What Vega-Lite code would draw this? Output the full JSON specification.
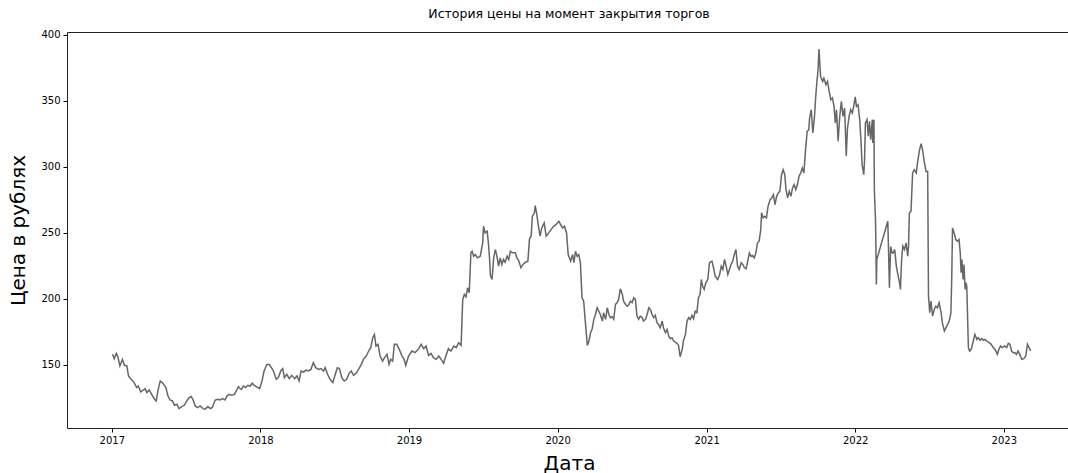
{
  "$schema": "https://vega.github.io/schema/vega-lite/v6.json",
  "autosize": "none",
  "width": 1004,
  "height": 396,
  "padding": {"left": 67, "top": 32, "right": 0, "bottom": 45},
  "background": "white",
  "config": {"view": {"stroke": "#222222", "strokeWidth": 1}, "font": "DejaVu Sans"},
  "title": {"text": "История цены на момент закрытия торгов", "fontSize": 12.5, "fontWeight": "normal", "font": "DejaVu Sans", "color": "#000000", "anchor": "middle", "offset": 9},
  "data": {"values": [
    {"date":"2017-01-03","price":157.8},{"date":"2017-01-07","price":154.5},{"date":"2017-01-12","price":158.5},{"date":"2017-01-16","price":156},{"date":"2017-01-21","price":149},{"date":"2017-01-27","price":154},{"date":"2017-02-01","price":149.5},{"date":"2017-02-07","price":149},{"date":"2017-02-11","price":141.4},{"date":"2017-02-19","price":138.4},{"date":"2017-02-25","price":136.4},{"date":"2017-03-03","price":132.6},{"date":"2017-03-07","price":133.8},{"date":"2017-03-13","price":129.3},{"date":"2017-03-20","price":130.8},{"date":"2017-03-24","price":131.8},{"date":"2017-03-28","price":128.8},{"date":"2017-04-03","price":130.8},{"date":"2017-04-09","price":127.5},{"date":"2017-04-16","price":123.8},{"date":"2017-04-20","price":122.5},{"date":"2017-04-25","price":131.3},{"date":"2017-04-30","price":137.6},{"date":"2017-05-05","price":136.4},{"date":"2017-05-10","price":134.3},{"date":"2017-05-14","price":132.6},{"date":"2017-05-19","price":126.2},{"date":"2017-05-24","price":123.2},{"date":"2017-05-30","price":122.5},{"date":"2017-06-04","price":119.2},{"date":"2017-06-10","price":120},{"date":"2017-06-15","price":116.7},{"date":"2017-06-22","price":118.2},{"date":"2017-06-28","price":119.2},{"date":"2017-07-04","price":122.5},{"date":"2017-07-10","price":125},{"date":"2017-07-15","price":125.8},{"date":"2017-07-19","price":123.8},{"date":"2017-07-25","price":118.7},{"date":"2017-07-31","price":117.5},{"date":"2017-08-06","price":118.7},{"date":"2017-08-13","price":116.7},{"date":"2017-08-18","price":116.2},{"date":"2017-08-25","price":118.2},{"date":"2017-08-31","price":116.7},{"date":"2017-09-05","price":117.5},{"date":"2017-09-12","price":123.2},{"date":"2017-09-18","price":123.8},{"date":"2017-09-24","price":123.2},{"date":"2017-09-30","price":124.3},{"date":"2017-10-06","price":123.2},{"date":"2017-10-11","price":126.2},{"date":"2017-10-16","price":127.5},{"date":"2017-10-23","price":126.8},{"date":"2017-10-29","price":127.5},{"date":"2017-11-04","price":130.8},{"date":"2017-11-08","price":133.4},{"date":"2017-11-12","price":131.8},{"date":"2017-11-16","price":131.3},{"date":"2017-11-20","price":133.8},{"date":"2017-11-26","price":132.6},{"date":"2017-12-01","price":134.3},{"date":"2017-12-07","price":133.8},{"date":"2017-12-12","price":135.9},{"date":"2017-12-17","price":134.3},{"date":"2017-12-22","price":133.4},{"date":"2017-12-30","price":131.8},
    {"date":"2018-01-05","price":137.6},{"date":"2018-01-10","price":145.2},{"date":"2018-01-17","price":150.2},{"date":"2018-01-23","price":150.2},{"date":"2018-01-28","price":147.7},{"date":"2018-02-02","price":145.2},{"date":"2018-02-09","price":138.9},{"date":"2018-02-14","price":140.2},{"date":"2018-02-20","price":145.2},{"date":"2018-02-25","price":147},{"date":"2018-03-01","price":140.2},{"date":"2018-03-07","price":142.7},{"date":"2018-03-13","price":139.4},{"date":"2018-03-19","price":141.9},{"date":"2018-03-26","price":139.4},{"date":"2018-04-01","price":141.4},{"date":"2018-04-06","price":137.6},{"date":"2018-04-11","price":145.2},{"date":"2018-04-17","price":144.4},{"date":"2018-04-23","price":145.9},{"date":"2018-04-29","price":145.2},{"date":"2018-05-05","price":146.4},{"date":"2018-05-11","price":151.5},{"date":"2018-05-17","price":147.7},{"date":"2018-05-24","price":146.4},{"date":"2018-05-30","price":147},{"date":"2018-06-05","price":145.2},{"date":"2018-06-09","price":147.7},{"date":"2018-06-15","price":142.7},{"date":"2018-06-21","price":138.9},{"date":"2018-06-28","price":136.4},{"date":"2018-07-04","price":142.7},{"date":"2018-07-09","price":147.7},{"date":"2018-07-14","price":147},{"date":"2018-07-20","price":140.2},{"date":"2018-07-26","price":137.6},{"date":"2018-08-01","price":138.9},{"date":"2018-08-07","price":143.4},{"date":"2018-08-12","price":145.2},{"date":"2018-08-18","price":141.9},{"date":"2018-08-24","price":143.4},{"date":"2018-08-30","price":146.4},{"date":"2018-09-06","price":150.2},{"date":"2018-09-11","price":154},{"date":"2018-09-18","price":156.5},{"date":"2018-09-24","price":160.3},{"date":"2018-09-29","price":162.9},{"date":"2018-10-04","price":170.4},{"date":"2018-10-08","price":172.9},{"date":"2018-10-12","price":164.1},{"date":"2018-10-17","price":165.4},{"date":"2018-10-22","price":156.5},{"date":"2018-10-28","price":152.7},{"date":"2018-11-02","price":155.3},{"date":"2018-11-08","price":157.8},{"date":"2018-11-13","price":150.2},{"date":"2018-11-17","price":154},{"date":"2018-11-22","price":152.7},{"date":"2018-11-26","price":165.4},{"date":"2018-12-02","price":165.4},{"date":"2018-12-08","price":161.6},{"date":"2018-12-15","price":156.5},{"date":"2018-12-20","price":154},{"date":"2018-12-24","price":149.5},{"date":"2018-12-31","price":156.5},
    {"date":"2019-01-08","price":160.3},{"date":"2019-01-16","price":159.1},{"date":"2019-01-25","price":162.1},{"date":"2019-01-31","price":165.4},{"date":"2019-02-06","price":162.1},{"date":"2019-02-12","price":164.1},{"date":"2019-02-18","price":157},{"date":"2019-02-24","price":158.5},{"date":"2019-03-02","price":155.3},{"date":"2019-03-09","price":154},{"date":"2019-03-15","price":156.5},{"date":"2019-03-20","price":154.5},{"date":"2019-03-27","price":151},{"date":"2019-04-03","price":157.8},{"date":"2019-04-08","price":162.1},{"date":"2019-04-14","price":160.3},{"date":"2019-04-21","price":164.1},{"date":"2019-04-27","price":162.9},{"date":"2019-05-03","price":166.6},{"date":"2019-05-09","price":164.6},{"date":"2019-05-13","price":199.4},{"date":"2019-05-17","price":203.2},{"date":"2019-05-21","price":201.4},{"date":"2019-05-25","price":208.2},{"date":"2019-05-29","price":204.5},{"date":"2019-06-02","price":234.7},{"date":"2019-06-05","price":235.9},{"date":"2019-06-09","price":232.1},{"date":"2019-06-13","price":233.4},{"date":"2019-06-18","price":230.9},{"date":"2019-06-25","price":232.1},{"date":"2019-07-01","price":242.3},{"date":"2019-07-03","price":254.8},{"date":"2019-07-07","price":249.8},{"date":"2019-07-12","price":251.1},{"date":"2019-07-15","price":242.3},{"date":"2019-07-18","price":229.7},{"date":"2019-07-20","price":217.5},{"date":"2019-07-24","price":214.5},{"date":"2019-07-28","price":230.9},{"date":"2019-08-01","price":237.2},{"date":"2019-08-05","price":232.1},{"date":"2019-08-09","price":224.6},{"date":"2019-08-13","price":230.9},{"date":"2019-08-17","price":225.9},{"date":"2019-08-21","price":229.7},{"date":"2019-08-25","price":227.6},{"date":"2019-08-30","price":232.1},{"date":"2019-09-03","price":229.7},{"date":"2019-09-07","price":235.9},{"date":"2019-09-12","price":234.7},{"date":"2019-09-19","price":234.7},{"date":"2019-09-23","price":230.9},{"date":"2019-09-27","price":229.1},{"date":"2019-10-03","price":223.4},{"date":"2019-10-08","price":225.9},{"date":"2019-10-14","price":227.6},{"date":"2019-10-20","price":228.4},{"date":"2019-10-24","price":245.3},{"date":"2019-10-28","price":247.3},{"date":"2019-10-31","price":262.4},{"date":"2019-11-05","price":265},{"date":"2019-11-07","price":270.5},{"date":"2019-11-11","price":263.7},{"date":"2019-11-15","price":254.8},{"date":"2019-11-19","price":247.3},{"date":"2019-11-23","price":253.6},{"date":"2019-11-29","price":257.4},{"date":"2019-12-04","price":247.3},{"date":"2019-12-10","price":249.8},{"date":"2019-12-16","price":252.3},{"date":"2019-12-22","price":254.8},{"date":"2019-12-28","price":256.1},
    {"date":"2020-01-04","price":258.6},{"date":"2020-01-13","price":253.6},{"date":"2020-01-18","price":254.8},{"date":"2020-01-23","price":249.8},{"date":"2020-01-27","price":233.4},{"date":"2020-02-02","price":228.4},{"date":"2020-02-07","price":233.4},{"date":"2020-02-10","price":227.2},{"date":"2020-02-14","price":235.9},{"date":"2020-02-18","price":232.1},{"date":"2020-02-22","price":233.4},{"date":"2020-02-26","price":227.2},{"date":"2020-03-01","price":200.7},{"date":"2020-03-05","price":198.1},{"date":"2020-03-10","price":179.2},{"date":"2020-03-14","price":164.6},{"date":"2020-03-18","price":167.9},{"date":"2020-03-22","price":174.2},{"date":"2020-03-26","price":177.2},{"date":"2020-03-30","price":184.3},{"date":"2020-04-03","price":188},{"date":"2020-04-07","price":193.1},{"date":"2020-04-11","price":190.5},{"date":"2020-04-15","price":188},{"date":"2020-04-20","price":183},{"date":"2020-04-23","price":189.3},{"date":"2020-04-28","price":184.3},{"date":"2020-05-02","price":193.1},{"date":"2020-05-06","price":188},{"date":"2020-05-10","price":185.6},{"date":"2020-05-14","price":186.3},{"date":"2020-05-18","price":184.3},{"date":"2020-05-22","price":195.6},{"date":"2020-05-26","price":196.9},{"date":"2020-05-30","price":199.4},{"date":"2020-06-03","price":207.5},{"date":"2020-06-08","price":203.2},{"date":"2020-06-11","price":198.1},{"date":"2020-06-16","price":195.6},{"date":"2020-06-20","price":194.3},{"date":"2020-06-24","price":195.6},{"date":"2020-06-28","price":198.1},{"date":"2020-07-02","price":196.9},{"date":"2020-07-06","price":200.7},{"date":"2020-07-10","price":199.4},{"date":"2020-07-14","price":186.8},{"date":"2020-07-18","price":184.3},{"date":"2020-07-22","price":186.8},{"date":"2020-07-27","price":185.6},{"date":"2020-07-30","price":183},{"date":"2020-08-04","price":184.3},{"date":"2020-08-08","price":188},{"date":"2020-08-12","price":193.1},{"date":"2020-08-16","price":191.8},{"date":"2020-08-20","price":188},{"date":"2020-08-24","price":185.6},{"date":"2020-08-28","price":187.3},{"date":"2020-09-01","price":181.8},{"date":"2020-09-05","price":180.5},{"date":"2020-09-09","price":178},{"date":"2020-09-14","price":183},{"date":"2020-09-17","price":178},{"date":"2020-09-22","price":174.2},{"date":"2020-09-26","price":176.7},{"date":"2020-09-30","price":171.6},{"date":"2020-10-04","price":169.7},{"date":"2020-10-08","price":170.4},{"date":"2020-10-12","price":167.9},{"date":"2020-10-16","price":167.1},{"date":"2020-10-20","price":166.1},{"date":"2020-10-24","price":164.6},{"date":"2020-10-28","price":156},{"date":"2020-11-02","price":161.6},{"date":"2020-11-05","price":167.9},{"date":"2020-11-10","price":172.9},{"date":"2020-11-14","price":183},{"date":"2020-11-18","price":185.6},{"date":"2020-11-22","price":184.3},{"date":"2020-11-26","price":187.3},{"date":"2020-11-30","price":184.8},{"date":"2020-12-04","price":190.5},{"date":"2020-12-08","price":189.3},{"date":"2020-12-12","price":200.7},{"date":"2020-12-16","price":203.2},{"date":"2020-12-19","price":214.5},{"date":"2020-12-22","price":209.5},{"date":"2020-12-26","price":207},{"date":"2020-12-30","price":212},
    {"date":"2021-01-04","price":214.5},{"date":"2021-01-08","price":227.2},{"date":"2021-01-14","price":228.4},{"date":"2021-01-18","price":223.4},{"date":"2021-01-22","price":217},{"date":"2021-01-28","price":214.5},{"date":"2021-02-02","price":218.3},{"date":"2021-02-06","price":224.6},{"date":"2021-02-10","price":222.1},{"date":"2021-02-14","price":229.7},{"date":"2021-02-18","price":224.6},{"date":"2021-02-22","price":218.3},{"date":"2021-02-26","price":222.1},{"date":"2021-03-02","price":225.9},{"date":"2021-03-06","price":228.4},{"date":"2021-03-10","price":233.4},{"date":"2021-03-14","price":237.2},{"date":"2021-03-18","price":224.6},{"date":"2021-03-22","price":222.1},{"date":"2021-03-27","price":227.2},{"date":"2021-03-31","price":225.9},{"date":"2021-04-04","price":223.4},{"date":"2021-04-08","price":222.6},{"date":"2021-04-12","price":228.4},{"date":"2021-04-16","price":234.7},{"date":"2021-04-20","price":232.1},{"date":"2021-04-24","price":232.7},{"date":"2021-04-28","price":230.9},{"date":"2021-05-02","price":234.7},{"date":"2021-05-06","price":242.3},{"date":"2021-05-10","price":243.5},{"date":"2021-05-14","price":252.3},{"date":"2021-05-16","price":265},{"date":"2021-05-20","price":261.2},{"date":"2021-05-24","price":262.4},{"date":"2021-05-28","price":261.2},{"date":"2021-06-01","price":270},{"date":"2021-06-06","price":275},{"date":"2021-06-10","price":276.3},{"date":"2021-06-14","price":278.8},{"date":"2021-06-18","price":271.3},{"date":"2021-06-22","price":277.5},{"date":"2021-06-26","price":280.1},{"date":"2021-06-30","price":281.3},{"date":"2021-07-04","price":293.9},{"date":"2021-07-08","price":297.7},{"date":"2021-07-12","price":293.9},{"date":"2021-07-15","price":282.6},{"date":"2021-07-19","price":276.3},{"date":"2021-07-23","price":281.3},{"date":"2021-07-27","price":277.5},{"date":"2021-07-31","price":283.9},{"date":"2021-08-04","price":286.4},{"date":"2021-08-08","price":282.6},{"date":"2021-08-12","price":286.4},{"date":"2021-08-16","price":292.7},{"date":"2021-08-20","price":295.2},{"date":"2021-08-24","price":299},{"date":"2021-08-28","price":295.2},{"date":"2021-09-01","price":312.9},{"date":"2021-09-05","price":326.7},{"date":"2021-09-09","price":328},{"date":"2021-09-11","price":336.8},{"date":"2021-09-15","price":343.1},{"date":"2021-09-19","price":325.5},{"date":"2021-09-23","price":338.1},{"date":"2021-09-26","price":353.3},{"date":"2021-09-29","price":364.5},{"date":"2021-10-01","price":370.9},{"date":"2021-10-02","price":375},{"date":"2021-10-04","price":389},{"date":"2021-10-08","price":368.3},{"date":"2021-10-13","price":364.5},{"date":"2021-10-16","price":367.1},{"date":"2021-10-21","price":362},{"date":"2021-10-25","price":364.5},{"date":"2021-10-29","price":357},{"date":"2021-11-02","price":350.7},{"date":"2021-11-06","price":352},{"date":"2021-11-10","price":345.6},{"date":"2021-11-13","price":333.1},{"date":"2021-11-16","price":343.1},{"date":"2021-11-20","price":319.2},{"date":"2021-11-24","price":338.1},{"date":"2021-11-28","price":349.5},{"date":"2021-12-02","price":338.1},{"date":"2021-12-06","price":344.4},{"date":"2021-12-10","price":308.1},{"date":"2021-12-13","price":329.3},{"date":"2021-12-17","price":338.1},{"date":"2021-12-21","price":343.1},{"date":"2021-12-25","price":340.6},{"date":"2021-12-29","price":346.9},
    {"date":"2022-01-01","price":352.8},{"date":"2022-01-04","price":345.6},{"date":"2022-01-08","price":346.9},{"date":"2022-01-12","price":335.6},{"date":"2022-01-15","price":320.4},{"date":"2022-01-18","price":301.5},{"date":"2022-01-22","price":293.9},{"date":"2022-01-24","price":305.3},{"date":"2022-01-26","price":333.1},{"date":"2022-01-30","price":335.6},{"date":"2022-02-02","price":323},{"date":"2022-02-05","price":334.3},{"date":"2022-02-08","price":320.4},{"date":"2022-02-12","price":335.6},{"date":"2022-02-13","price":317.9},{"date":"2022-02-16","price":335.6},{"date":"2022-02-17","price":282.6},{"date":"2022-02-20","price":257.4},{"date":"2022-02-22","price":210.7},{"date":"2022-02-23","price":229.7},{"date":"2022-03-22","price":258.6},{"date":"2022-03-24","price":234.7},{"date":"2022-03-26","price":208.2},{"date":"2022-03-29","price":239.5},{"date":"2022-04-02","price":234.5},{"date":"2022-04-05","price":234.7},{"date":"2022-04-08","price":237.2},{"date":"2022-04-12","price":224.6},{"date":"2022-04-15","price":219.6},{"date":"2022-04-20","price":212},{"date":"2022-04-22","price":207},{"date":"2022-04-25","price":229.7},{"date":"2022-04-28","price":239.8},{"date":"2022-05-02","price":237.2},{"date":"2022-05-06","price":242.3},{"date":"2022-05-10","price":232.1},{"date":"2022-05-12","price":239.8},{"date":"2022-05-14","price":265},{"date":"2022-05-18","price":266.2},{"date":"2022-05-22","price":295.2},{"date":"2022-05-26","price":297.7},{"date":"2022-05-31","price":295.2},{"date":"2022-06-03","price":302.8},{"date":"2022-06-08","price":312.9},{"date":"2022-06-12","price":317.4},{"date":"2022-06-16","price":311.6},{"date":"2022-06-20","price":302.8},{"date":"2022-06-24","price":296.4},{"date":"2022-06-28","price":296.4},{"date":"2022-06-30","price":201.9},{"date":"2022-07-03","price":189.3},{"date":"2022-07-06","price":198.1},{"date":"2022-07-10","price":186.8},{"date":"2022-07-14","price":191.8},{"date":"2022-07-18","price":194.3},{"date":"2022-07-22","price":193.1},{"date":"2022-07-26","price":196.9},{"date":"2022-07-31","price":189.3},{"date":"2022-08-03","price":181.8},{"date":"2022-08-08","price":175.4},{"date":"2022-08-12","price":178},{"date":"2022-08-16","price":180.5},{"date":"2022-08-20","price":183},{"date":"2022-08-24","price":189.3},{"date":"2022-08-26","price":214.5},{"date":"2022-08-28","price":253.6},{"date":"2022-09-01","price":249.8},{"date":"2022-09-05","price":244.8},{"date":"2022-09-09","price":243.5},{"date":"2022-09-13","price":244.8},{"date":"2022-09-16","price":234.7},{"date":"2022-09-18","price":219.6},{"date":"2022-09-20","price":229.7},{"date":"2022-09-23","price":214.5},{"date":"2022-09-25","price":225.9},{"date":"2022-09-28","price":207},{"date":"2022-09-30","price":212},{"date":"2022-10-02","price":209.5},{"date":"2022-10-06","price":162.9},{"date":"2022-10-09","price":160.3},{"date":"2022-10-13","price":161.6},{"date":"2022-10-18","price":167.9},{"date":"2022-10-22","price":172.9},{"date":"2022-10-27","price":169.1},{"date":"2022-10-30","price":170.4},{"date":"2022-11-04","price":168.6},{"date":"2022-11-08","price":169.7},{"date":"2022-11-12","price":168.4},{"date":"2022-11-16","price":169.1},{"date":"2022-11-20","price":167.9},{"date":"2022-11-26","price":166.6},{"date":"2022-12-01","price":165.4},{"date":"2022-12-06","price":162.9},{"date":"2022-12-12","price":160.8},{"date":"2022-12-16","price":157.8},{"date":"2022-12-20","price":161.6},{"date":"2022-12-24","price":164.1},{"date":"2022-12-28","price":162.9},
    {"date":"2023-01-03","price":164.1},{"date":"2023-01-08","price":162.9},{"date":"2023-01-12","price":166.1},{"date":"2023-01-16","price":165.4},{"date":"2023-01-20","price":160.3},{"date":"2023-01-24","price":159.1},{"date":"2023-01-28","price":159.1},{"date":"2023-02-01","price":157.8},{"date":"2023-02-05","price":160.3},{"date":"2023-02-09","price":157.8},{"date":"2023-02-14","price":154},{"date":"2023-02-19","price":154.5},{"date":"2023-02-24","price":156.5},{"date":"2023-02-28","price":165.4},{"date":"2023-03-04","price":162.9},{"date":"2023-03-08","price":160.3}
  ]},
  "mark": {"type": "line", "color": "#666666", "strokeWidth": 1.5, "clip": true},
  "encoding": {
    "x": {
      "field": "date", "type": "temporal",
      "scale": {"type": "utc", "domain": [{"year": 2016, "month": 9, "date": 13, "utc": true}, {"year": 2023, "month": 6, "date": 15, "utc": true}]},
      "axis": {
        "values": [{"year": 2017, "utc": true}, {"year": 2018, "utc": true}, {"year": 2019, "utc": true}, {"year": 2020, "utc": true}, {"year": 2021, "utc": true}, {"year": 2022, "utc": true}, {"year": 2023, "utc": true}],
        "format": "%Y", "domain": false, "grid": false, "tickColor": "#000000", "tickSize": 4, "tickWidth": 1,
        "labelFontSize": 10, "labelColor": "#000000", "labelPadding": 3, "labelFlush": false, "labelFont": "DejaVu Sans",
        "title": "Дата", "titleFontSize": 20, "titleFontWeight": "normal", "titleColor": "#000000", "titleFont": "DejaVu Sans",
        "titleY": 35, "titleBaseline": "middle"
      }
    },
    "y": {
      "field": "price", "type": "quantitative",
      "scale": {"domain": [102, 402], "nice": false, "zero": false},
      "axis": {
        "values": [150, 200, 250, 300, 350, 400],
        "domain": false, "grid": false, "tickColor": "#000000", "tickSize": 4, "tickWidth": 1,
        "labelFontSize": 10, "labelColor": "#000000", "labelPadding": 3, "labelFont": "DejaVu Sans",
        "title": "Цена в рублях", "titleFontSize": 20, "titleFontWeight": "normal", "titleColor": "#000000", "titleFont": "DejaVu Sans",
        "titleX": -49, "titleY": 198, "titleAngle": -90, "titleBaseline": "middle", "titleAlign": "center"
      }
    }
  }
}
